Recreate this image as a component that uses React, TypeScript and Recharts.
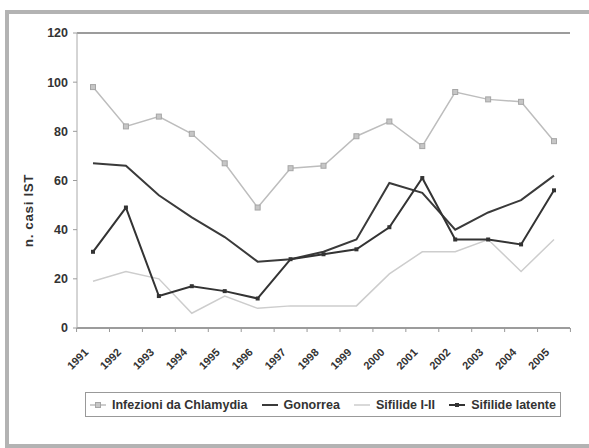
import React from 'react';
import { LineChart, Line, XAxis, YAxis, CartesianGrid } from 'recharts';

const years = ['1991', '1992', '1993', '1994', '1995', '1996', '1997', '1998', '1999', '2000', '2001', '2002', '2003', '2004', '2005'];
const chlamydia = [98, 82, 86, 79, 67, 49, 65, 66, 78, 84, 74, 96, 93, 92, 76];
const gonorrea = [67, 66, 54, 45, 37, 27, 28, 31, 36, 59, 55, 40, 47, 52, 62];
const sifilide12 = [19, 23, 20, 6, 13, 8, 9, 9, 9, 22, 31, 31, 36, 23, 36];
const latente = [31, 49, 13, 17, 15, 12, 28, 30, 32, 41, 61, 36, 36, 34, 56];
const yTicks = [0, 20, 40, 60, 80, 100, 120];
const seriesNames = ['Infezioni da Chlamydia', 'Gonorrea', 'Sifilide I-II', 'Sifilide latente'];
const yTitle = 'n. casi IST';

const data = years.map((y, i) => ({
  year: y,
  chlamydia: chlamydia[i],
  gonorrea: gonorrea[i],
  sifilide12: sifilide12[i],
  latente: latente[i],
}));

const FONT = 'Arial, "Liberation Sans", sans-serif';
const C_CHL = '#bdbdbd';
const C_GON = '#3a3a3a';
const C_S12 = '#cdcdcd';
const C_LAT = '#333333';

const SquareDot = (props: any) => {
  const { cx, cy } = props;
  if (cx == null || cy == null) return null;
  return <rect x={cx - 2.5} y={cy - 2.5} width={5} height={5} fill="#c6c6c6" stroke="#a6a6a6" strokeWidth={1} />;
};

const SmallDot = (props: any) => {
  const { cx, cy } = props;
  if (cx == null || cy == null) return null;
  return <rect x={cx - 2} y={cy - 2} width={4} height={4} fill={C_LAT} />;
};

const XTick = (props: any) => {
  const { x, y, payload, index } = props;
  const half = 16.43;
  const tx = x - 4;
  const ty = y + 25;
  return (
    <g>
      <line x1={x - half} y1={y} x2={x - half} y2={y + 4} stroke="#999" strokeWidth={1} />
      {index === years.length - 1 && (
        <line x1={x + half} y1={y} x2={x + half} y2={y + 4} stroke="#999" strokeWidth={1} />
      )}
      <text
        x={tx}
        y={ty}
        transform={`rotate(-45 ${tx} ${ty})`}
        textAnchor="end"
        fontSize={11}
        fontWeight="bold"
        fill="#333"
        fontFamily={FONT}
      >
        {payload.value}
      </text>
    </g>
  );
};

const YTitle = (props: any) => {
  const vb = props.viewBox || { x: 0, y: 0, width: 0, height: 0 };
  const cx = vb.x + 28;
  const cy = vb.y + vb.height / 2 + 30;
  return (
    <text
      x={cx}
      y={cy}
      transform={`rotate(-90 ${cx} ${cy})`}
      textAnchor="middle"
      dominantBaseline="central"
      fontSize={13.5}
      fontWeight="bold"
      fill="#333"
      fontFamily={FONT}
      letterSpacing={0.6}
    >
      {yTitle}
    </text>
  );
};

const LegendIcon = ({ kind }: { kind: number }) => {
  if (kind === 0)
    return (
      <svg width={16} height={10}>
        <line x1={0} y1={5} x2={16} y2={5} stroke={C_CHL} strokeWidth={1.5} />
        <rect x={5.5} y={2.5} width={5} height={5} fill="#c6c6c6" stroke="#a6a6a6" />
      </svg>
    );
  if (kind === 1)
    return (
      <svg width={16} height={10}>
        <line x1={0} y1={5} x2={16} y2={5} stroke={C_GON} strokeWidth={2} />
      </svg>
    );
  if (kind === 2)
    return (
      <svg width={16} height={10}>
        <line x1={0} y1={5} x2={16} y2={5} stroke={C_S12} strokeWidth={1.5} />
      </svg>
    );
  return (
    <svg width={16} height={10}>
      <line x1={0} y1={5} x2={16} y2={5} stroke={C_LAT} strokeWidth={2} />
      <rect x={6} y={3} width={4} height={4} fill={C_LAT} />
    </svg>
  );
};

export default function App() {
  return (
    <div
      style={{
        position: 'absolute',
        left: 0,
        top: 0,
        width: 589,
        height: 448,
        overflow: 'hidden',
        background: '#fff',
        fontFamily: FONT,
      }}
    >
      <div
        style={{
          position: 'absolute',
          left: 5,
          top: 10,
          width: 620,
          height: 438,
          border: '4px solid #b3b3b3',
          boxSizing: 'border-box',
        }}
      />
      <div style={{ position: 'absolute', left: 0, top: 0 }}>
        <LineChart width={589} height={448} data={data} margin={{ top: 33, right: 19, bottom: 90, left: 0 }}>
          <CartesianGrid horizontal vertical={false} stroke="#9c9c9c" strokeWidth={2} />
          <XAxis
            dataKey="year"
            padding={{ left: 16, right: 16 }}
            height={30}
            tickSize={0}
            tickMargin={0}
            tickLine={false}
            axisLine={{ stroke: '#9c9c9c', strokeWidth: 2 }}
            tick={<XTick />}
            interval={0}
          />
          <YAxis
            yAxisId="left"
            width={77}
            domain={[0, 120]}
            ticks={yTicks}
            tickSize={4}
            tickMargin={5}
            tickLine={{ stroke: '#9c9c9c' }}
            axisLine={{ stroke: '#aaaaaa', strokeWidth: 1 }}
            tick={{ fontSize: 12.5, fontWeight: 'bold', fill: '#333', fontFamily: FONT }}
            label={<YTitle />}
          />
          <YAxis
            yAxisId="right"
            orientation="right"
            width={0}
            domain={[0, 120]}
            tick={false}
            tickLine={false}
            axisLine={{ stroke: '#aaaaaa', strokeWidth: 1 }}
          />
          <Line
            yAxisId="left"
            dataKey="chlamydia"
            name={seriesNames[0]}
            stroke={C_CHL}
            strokeWidth={1.5}
            dot={<SquareDot />}
            isAnimationActive={false}
          />
          <Line
            yAxisId="left"
            dataKey="sifilide12"
            name={seriesNames[2]}
            stroke={C_S12}
            strokeWidth={1.5}
            dot={false}
            isAnimationActive={false}
          />
          <Line
            yAxisId="left"
            dataKey="gonorrea"
            name={seriesNames[1]}
            stroke={C_GON}
            strokeWidth={2}
            dot={false}
            isAnimationActive={false}
          />
          <Line
            yAxisId="left"
            dataKey="latente"
            name={seriesNames[3]}
            stroke={C_LAT}
            strokeWidth={2}
            dot={<SmallDot />}
            isAnimationActive={false}
          />
        </LineChart>
      </div>
      <div
        style={{
          position: 'absolute',
          left: 85,
          top: 392,
          width: 476,
          height: 25,
          border: '1px solid #999',
          boxSizing: 'border-box',
          display: 'flex',
          alignItems: 'center',
          justifyContent: 'space-between',
          paddingLeft: 4,
          paddingRight: 4,
          fontSize: 12.5,
          fontWeight: 'bold',
          color: '#333',
          whiteSpace: 'nowrap',
        }}
      >
        {seriesNames.map((n) => (
          <div key={n} style={{ display: 'flex', alignItems: 'center', gap: 6 }}>
            <LegendIcon kind={seriesNames.indexOf(n)} />
            <span>{n}</span>
          </div>
        ))}
      </div>
    </div>
  );
}
